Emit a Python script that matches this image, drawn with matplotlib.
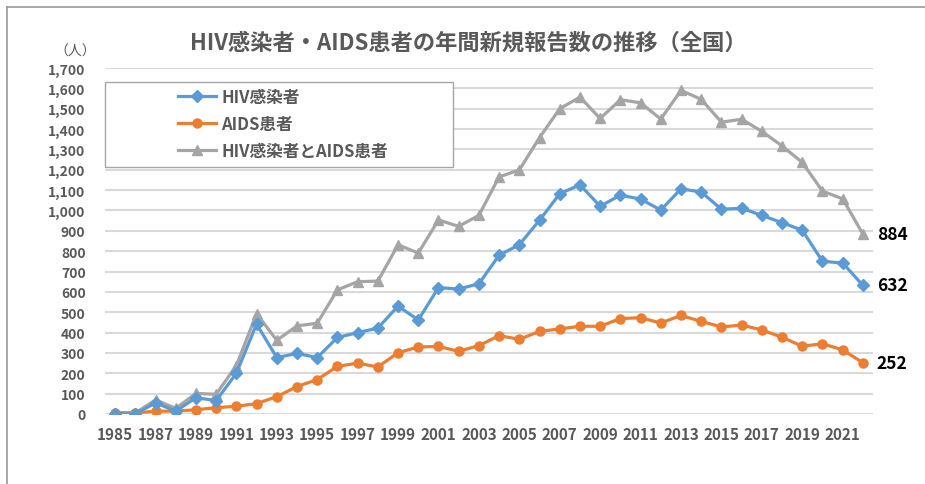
import matplotlib
matplotlib.use("Agg")
import matplotlib.pyplot as plt
from matplotlib.lines import Line2D
from matplotlib.patches import Rectangle
from matplotlib.ticker import FuncFormatter

plt.rcParams['font.family'] = ['Noto Sans CJK JP', 'DejaVu Sans']

# 年ごとの新規報告数
years = list(range(1985, 2023))
hiv = [0, 0, 55, 14, 80, 66, 200, 442, 277, 298, 277, 376, 400, 422, 530, 462,
       621, 614, 640, 780, 832, 952, 1082, 1126, 1021, 1075, 1056, 1002, 1106,
       1091, 1006, 1011, 976, 940, 903, 750, 742, 632]
aids = [6, 5, 14, 14, 21, 31, 38, 51, 85, 135, 169, 234, 250, 231, 301, 329,
        332, 308, 336, 385, 367, 406, 418, 431, 431, 469, 473, 447, 484, 455,
        428, 437, 413, 377, 333, 345, 315, 252]
total = [6, 5, 69, 28, 101, 97, 238, 493, 362, 433, 446, 610, 650, 653, 831, 791,
         953, 922, 976, 1165, 1199, 1358, 1500, 1557, 1452, 1544, 1529, 1449,
         1590, 1546, 1434, 1448, 1389, 1317, 1236, 1095, 1057, 884]
year_ticks = list(range(1985, 2022, 2))

W, H = 925, 485
fig = plt.figure(figsize=(W / 100, H / 100), dpi=100)
ax = fig.add_axes([105 / W, 1 - 415 / H, (873 - 105) / W, (415 - 69) / H])

tick_color = '#595959'
grid_color = '#d9d9d9'

ax.plot(years, hiv, color='#5b9bd5', lw=2.3, marker='D', ms=6,
        label='HIV感染者', zorder=4)
ax.plot(years, aids, color='#ed7d31', lw=2.3, marker='o', ms=6.5,
        label='AIDS患者', zorder=3)
ax.plot(years, total, color='#a5a5a5', lw=2.3, marker='^', ms=7,
        label='HIV感染者とAIDS患者', zorder=2)

ax.set_xlim(1984.5, 2022.5)
ax.set_ylim(0, 1700)
ax.set_yticks(range(0, 1701, 100))
ax.yaxis.set_major_formatter(FuncFormatter(lambda v, p: f"{int(v):,}"))
ax.set_xticks(year_ticks)
ax.grid(axis='y', color=grid_color, lw=1.5)
ax.set_axisbelow(True)
for s in ax.spines.values():
    s.set_visible(False)
ax.tick_params(length=0, colors=tick_color)
ax.tick_params(axis='y', labelsize=10, pad=14)
ax.tick_params(axis='x', labelsize=11, pad=9)
for lbl in ax.get_xticklabels() + ax.get_yticklabels():
    lbl.set_fontweight('bold')

# 最終年の値
for series in (hiv, aids, total):
    ax.annotate(f"{series[-1]}", (years[-1], series[-1]), xytext=(10, 0),
                textcoords='offset points', va='center', ha='left',
                fontsize=12.5, fontweight='bold', color='black')

# 凡例の枠（Excel 風に広め）
frame = Rectangle((105 / W, 1 - 168 / H), (453 - 105) / W, (168 - 83) / H,
                  transform=fig.transFigure, facecolor='white',
                  edgecolor='#a6a6a6', lw=1.0, clip_on=False, zorder=5.5)
ax.add_patch(frame)
leg = ax.legend(loc='center left', bbox_to_anchor=(178 / W, 1 - 125 / H),
                bbox_transform=fig.transFigure, frameon=False, fontsize=12,
                handlelength=2.3, handletextpad=0.3, borderpad=0,
                labelspacing=0.55, borderaxespad=0)
leg.set_zorder(6)
for t in leg.get_texts():
    t.set_color(tick_color)
    t.set_fontweight('bold')

fig.text(468 / W, 1 - 43 / H, 'HIV感染者・AIDS患者の年間新規報告数の推移（全国）',
         ha='center', va='center', fontsize=16, fontweight='bold',
         color=tick_color)
fig.text(75 / W, 1 - 52 / H, '（人）', ha='center', va='center', fontsize=10,
         color=tick_color)

# 外枠
fig.add_artist(Line2D([7 / W, 1.0], [1 - 8 / H, 1 - 8 / H], color='#9a9a9a',
                      lw=1.2, transform=fig.transFigure))
fig.add_artist(Line2D([7 / W, 7 / W], [0, 1 - 8 / H], color='#9a9a9a',
                      lw=1.2, transform=fig.transFigure))

fig.savefig('out.png', dpi=100)
